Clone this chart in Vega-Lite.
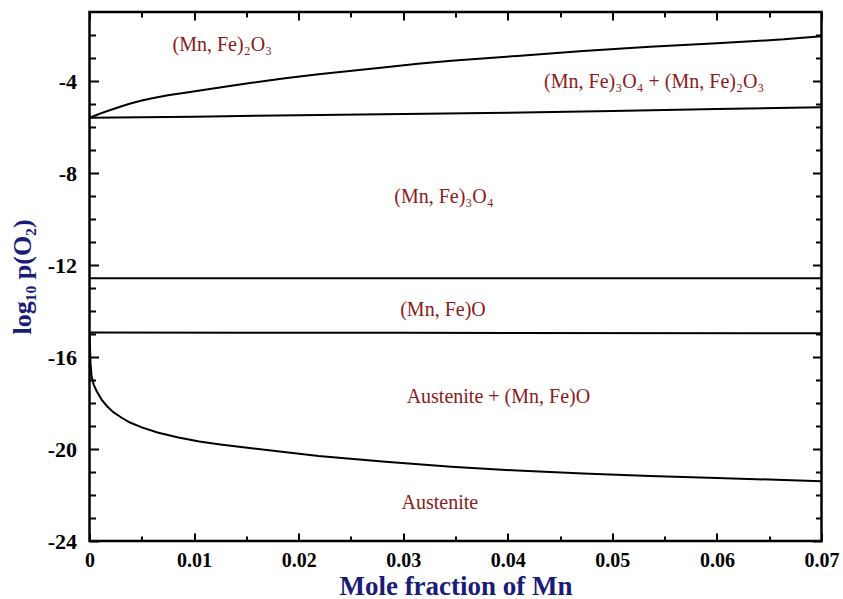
{
  "$schema": "https://vega.github.io/schema/vega-lite/v6.json",
  "width": 732,
  "height": 529,
  "autosize": {"type": "none"},
  "padding": {"left": 89.5, "top": 12, "right": 21, "bottom": 58},
  "config": {
    "view": {"stroke": "black", "strokeWidth": 2.5},
    "background": "white"
  },
  "datasets": {
    "lines": [
      {"b": "hem", "x": 0, "y": -5.6},
      {"b": "hem", "x": 0.0005, "y": -5.51},
      {"b": "hem", "x": 0.001, "y": -5.42},
      {"b": "hem", "x": 0.002, "y": -5.26},
      {"b": "hem", "x": 0.003, "y": -5.11},
      {"b": "hem", "x": 0.004, "y": -4.97},
      {"b": "hem", "x": 0.005, "y": -4.85},
      {"b": "hem", "x": 0.006, "y": -4.75},
      {"b": "hem", "x": 0.0075, "y": -4.62},
      {"b": "hem", "x": 0.0093, "y": -4.5},
      {"b": "hem", "x": 0.0123, "y": -4.29},
      {"b": "hem", "x": 0.0155, "y": -4.08},
      {"b": "hem", "x": 0.0187, "y": -3.88},
      {"b": "hem", "x": 0.0219, "y": -3.71},
      {"b": "hem", "x": 0.0251, "y": -3.55},
      {"b": "hem", "x": 0.0283, "y": -3.4},
      {"b": "hem", "x": 0.0314, "y": -3.25},
      {"b": "hem", "x": 0.0346, "y": -3.12},
      {"b": "hem", "x": 0.0409, "y": -2.91},
      {"b": "hem", "x": 0.0472, "y": -2.7},
      {"b": "hem", "x": 0.0536, "y": -2.51},
      {"b": "hem", "x": 0.06, "y": -2.36},
      {"b": "hem", "x": 0.0664, "y": -2.19},
      {"b": "hem", "x": 0.07, "y": -2.05},
      {"b": "mag", "x": 0, "y": -5.6},
      {"b": "mag", "x": 0.01, "y": -5.55},
      {"b": "mag", "x": 0.02, "y": -5.49},
      {"b": "mag", "x": 0.03, "y": -5.44},
      {"b": "mag", "x": 0.04, "y": -5.38},
      {"b": "mag", "x": 0.05, "y": -5.3},
      {"b": "mag", "x": 0.06, "y": -5.22},
      {"b": "mag", "x": 0.07, "y": -5.14},
      {"b": "wus1", "x": 0, "y": -12.58},
      {"b": "wus1", "x": 0.07, "y": -12.58},
      {"b": "wus2", "x": 0, "y": -14.94},
      {"b": "wus2", "x": 0.03, "y": -14.95},
      {"b": "wus2", "x": 0.07, "y": -14.97},
      {"b": "aus", "x": 0, "y": -14.95},
      {"b": "aus", "x": 0.00005, "y": -15.6},
      {"b": "aus", "x": 0.0001, "y": -16.3},
      {"b": "aus", "x": 0.0002, "y": -16.85},
      {"b": "aus", "x": 0.0004, "y": -17.2},
      {"b": "aus", "x": 0.0007, "y": -17.5},
      {"b": "aus", "x": 0.00116, "y": -17.85},
      {"b": "aus", "x": 0.0017, "y": -18.15},
      {"b": "aus", "x": 0.00228, "y": -18.4},
      {"b": "aus", "x": 0.003, "y": -18.62},
      {"b": "aus", "x": 0.00387, "y": -18.85},
      {"b": "aus", "x": 0.005, "y": -19.06},
      {"b": "aus", "x": 0.0065, "y": -19.28},
      {"b": "aus", "x": 0.0085, "y": -19.5},
      {"b": "aus", "x": 0.0105, "y": -19.67},
      {"b": "aus", "x": 0.0125, "y": -19.8},
      {"b": "aus", "x": 0.0155, "y": -19.97},
      {"b": "aus", "x": 0.0219, "y": -20.3},
      {"b": "aus", "x": 0.0283, "y": -20.55},
      {"b": "aus", "x": 0.0346, "y": -20.77},
      {"b": "aus", "x": 0.0409, "y": -20.94},
      {"b": "aus", "x": 0.0472, "y": -21.06},
      {"b": "aus", "x": 0.0536, "y": -21.17},
      {"b": "aus", "x": 0.06, "y": -21.26},
      {"b": "aus", "x": 0.0664, "y": -21.35},
      {"b": "aus", "x": 0.07, "y": -21.4}
    ],
    "labels": [
      {"x": 0.0127, "y": -2.43, "t": "(Mn, Fe)₂O₃"},
      {"x": 0.054, "y": -4.04, "t": "(Mn, Fe)₃O₄ + (Mn, Fe)₂O₃"},
      {"x": 0.0339, "y": -9.04, "t": "(Mn, Fe)₃O₄"},
      {"x": 0.0338, "y": -13.96, "t": "(Mn, Fe)O"},
      {"x": 0.0391, "y": -17.74, "t": "Austenite + (Mn, Fe)O"},
      {"x": 0.0335, "y": -22.35, "t": "Austenite"}
    ]
  },
  "layer": [
    {
      "data": {"name": "lines"},
      "mark": {"type": "line", "color": "black", "strokeWidth": 2, "clip": true},
      "encoding": {
        "detail": {"field": "b", "type": "nominal"},
        "x": {
          "field": "x", "type": "quantitative",
          "scale": {"domain": [0, 0.07], "nice": false, "zero": false},
          "axis": {
            "orient": "bottom",
            "values": [0, 0.005, 0.01, 0.015, 0.02, 0.025, 0.03, 0.035, 0.04, 0.045, 0.05, 0.055, 0.06, 0.065, 0.07],
            "labelExpr": "round(datum.value*200)%2==0 ? format(datum.value,'~g') : ''",
            "tickSize": {"condition": {"test": "round(datum.value*200)%2==0", "value": -8}, "value": -5},
            "tickWidth": 2, "tickColor": "black", "domain": false, "grid": false,
            "labelFont": "Liberation Serif", "labelFontWeight": "bold", "labelFontSize": 20, "labelColor": "black",
            "labelPadding": 17, "labelFlush": false, "labelOverlap": false,
            "title": "Mole fraction of Mn",
            "titleFont": "Liberation Serif", "titleFontWeight": "bold", "titleFontSize": 27, "titleColor": "#1b1b78",
            "titlePadding": 0
          }
        },
        "y": {
          "field": "y", "type": "quantitative",
          "scale": {"domain": [-24, -1], "nice": false, "zero": false},
          "axis": {
            "orient": "left",
            "values": [-24, -23, -22, -21, -20, -19, -18, -17, -16, -15, -14, -13, -12, -11, -10, -9, -8, -7, -6, -5, -4, -3, -2],
            "labelExpr": "datum.value % 4 == 0 ? '' + datum.value : ''",
            "tickSize": {"condition": {"test": "datum.value % 4 == 0", "value": -9}, "value": -6},
            "tickWidth": 2, "tickColor": "black", "domain": false, "grid": false,
            "labelFont": "Liberation Serif", "labelFontWeight": "bold", "labelFontSize": 22, "labelColor": "black",
            "labelPadding": 22, "labelFlush": false, "labelOverlap": false,
            "title": "log₁₀ p(O₂)",
            "titleFont": "Liberation Serif", "titleFontWeight": "bold", "titleFontSize": 26, "titleColor": "#1b1b78",
            "titlePadding": 12
          }
        }
      }
    },
    {
      "data": {"name": "labels"},
      "mark": {"type": "text", "font": "Liberation Serif", "fontSize": 20, "color": "#8b1a1a", "align": "center", "baseline": "middle"},
      "encoding": {
        "text": {"field": "t", "type": "nominal"},
        "x": {
          "field": "x", "type": "quantitative",
          "axis": {
            "orient": "top",
            "values": [0, 0.005, 0.01, 0.015, 0.02, 0.025, 0.03, 0.035, 0.04, 0.045, 0.05, 0.055, 0.06, 0.065, 0.07],
            "labels": false, "title": null, "domain": false, "grid": false,
            "tickSize": {"condition": {"test": "round(datum.value*200)%2==0", "value": -8}, "value": -5},
            "tickWidth": 2, "tickColor": "black"
          }
        },
        "y": {
          "field": "y", "type": "quantitative",
          "axis": {
            "orient": "right",
            "values": [-24, -23, -22, -21, -20, -19, -18, -17, -16, -15, -14, -13, -12, -11, -10, -9, -8, -7, -6, -5, -4, -3, -2],
            "labels": false, "title": null, "domain": false, "grid": false,
            "tickSize": {"condition": {"test": "datum.value % 4 == 0", "value": -9}, "value": -6},
            "tickWidth": 2, "tickColor": "black"
          }
        }
      }
    }
  ],
  "resolve": {"axis": {"x": "independent", "y": "independent"}}
}
